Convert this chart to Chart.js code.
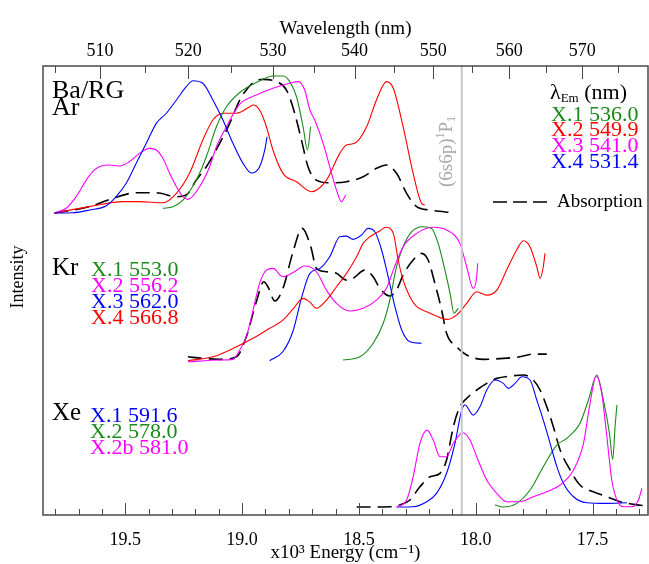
<!DOCTYPE html>
<html>
<head>
<meta charset="utf-8">
<script src="https://cdn.jsdelivr.net/npm/chart.js@4.4.1/dist/chart.umd.min.js"></script>
<style>
  html, body { margin: 0; padding: 0; background: #fff; }
</style>
</head>
<body>
<canvas id="spectra" width="649" height="564"></canvas>
<script>
// energy in 10^3 cm-1, intensity normalised per panel
const energyMin = 17.263;
const energyMax = 19.852;
const energyTicks = [17.5, 18.0, 18.5, 19.0, 19.5];
const wavelengthTicks = [510, 520, 530, 540, 550, 560, 570];
const atomicLine = 18.060; // Ba (6s6p)1P1
const panelOffset = { Ar: 2.237, Kr: 1.133, Xe: 0.059 };

// Ba/RG Ar
const arX1 = [[19.339,0.035],[19.296,0.047],[19.253,0.096],[19.196,0.244],[19.153,0.417],[19.110,0.639],[19.067,0.787],[19.010,0.893],[18.939,0.967],[18.868,1.015],[18.825,1.015],[18.796,0.973],[18.767,0.861],[18.739,0.639],[18.720,0.467],[18.707,0.639]];
const arX2 = [[19.803,0],[19.653,0.047],[19.510,0.084],[19.439,0.084],[19.339,0.076],[19.281,0.146],[19.225,0.294],[19.168,0.541],[19.125,0.689],[19.082,0.739],[19.024,0.739],[18.967,0.787],[18.953,0.800],[18.925,0.763],[18.896,0.639],[18.868,0.467],[18.825,0.294],[18.767,0.232],[18.703,0.158],[18.639,0.244],[18.582,0.442],[18.553,0.504],[18.518,0.516],[18.467,0.639],[18.425,0.837],[18.382,0.973],[18.353,0.924],[18.311,0.639],[18.268,0.294],[18.232,0.072],[18.218,0.059]];
const arX3 = [[19.803,0],[19.753,0.035],[19.710,0.121],[19.667,0.244],[19.632,0.319],[19.603,0.348],[19.567,0.356],[19.524,0.348],[19.482,0.380],[19.439,0.442],[19.396,0.479],[19.367,0.467],[19.339,0.405],[19.310,0.294],[19.281,0.195],[19.253,0.121],[19.232,0.101],[19.182,0.195],[19.139,0.343],[19.110,0.491],[19.067,0.639],[19.010,0.807],[18.939,0.874],[18.868,0.924],[18.796,0.961],[18.760,0.973],[18.732,0.911],[18.710,0.763],[18.689,0.689],[18.653,0.516],[18.625,0.343],[18.596,0.170],[18.575,0.084],[18.556,0.133]];
const arX4 = [[19.803,0],[19.725,0.002],[19.653,0.022],[19.581,0.054],[19.539,0.121],[19.496,0.220],[19.453,0.368],[19.410,0.516],[19.367,0.664],[19.324,0.739],[19.281,0.837],[19.239,0.936],[19.210,0.980],[19.168,0.961],[19.125,0.837],[19.082,0.689],[19.039,0.516],[18.996,0.368],[18.960,0.296],[18.925,0.343],[18.903,0.467],[18.893,0.565]];
const arAbs = [[19.803,0],[19.653,0.047],[19.553,0.109],[19.453,0.150],[19.367,0.150],[19.281,0.121],[19.239,0.133],[19.196,0.244],[19.153,0.343],[19.096,0.516],[19.053,0.664],[19.010,0.837],[18.953,0.967],[18.910,0.990],[18.853,0.973],[18.810,0.911],[18.775,0.739],[18.746,0.541],[18.718,0.343],[18.682,0.244],[18.625,0.224],[18.553,0.232],[18.482,0.269],[18.425,0.331],[18.382,0.356],[18.339,0.294],[18.296,0.146],[18.253,0.047],[18.196,0.022],[18.096,0.002]];

// Kr
const krX1 = [[18.568,0.015],[18.496,0.039],[18.439,0.139],[18.396,0.287],[18.368,0.459],[18.339,0.706],[18.311,0.854],[18.275,0.965],[18.225,1.002],[18.189,0.990],[18.161,0.879],[18.132,0.681],[18.110,0.509],[18.093,0.361],[18.075,0.398]];
const krX2 = [[19.232,0.002],[19.096,0.015],[19.039,0.020],[19.010,0.089],[18.982,0.187],[18.953,0.385],[18.925,0.583],[18.896,0.681],[18.868,0.694],[18.825,0.632],[18.782,0.663],[18.732,0.711],[18.682,0.669],[18.639,0.533],[18.596,0.435],[18.539,0.378],[18.482,0.398],[18.425,0.459],[18.382,0.546],[18.353,0.681],[18.311,0.854],[18.253,0.953],[18.182,0.998],[18.125,0.978],[18.068,0.879],[18.039,0.706],[18.011,0.546],[17.996,0.632],[17.992,0.731]];
const krX3 = [[18.882,0.010],[18.825,0.078],[18.782,0.230],[18.746,0.474],[18.710,0.657],[18.667,0.694],[18.625,0.780],[18.582,0.928],[18.553,0.933],[18.525,0.909],[18.489,0.941],[18.461,0.990],[18.432,0.965],[18.403,0.830],[18.375,0.632],[18.346,0.410],[18.317,0.237],[18.282,0.150],[18.232,0.139]];
const krX4 = [[19.232,0.010],[19.125,0.039],[19.024,0.113],[18.953,0.176],[18.882,0.250],[18.825,0.311],[18.782,0.393],[18.739,0.472],[18.710,0.444],[18.682,0.398],[18.639,0.459],[18.596,0.558],[18.553,0.657],[18.510,0.780],[18.482,0.879],[18.453,0.928],[18.410,0.973],[18.385,0.998],[18.353,0.953],[18.332,0.756],[18.311,0.607],[18.282,0.484],[18.253,0.410],[18.210,0.373],[18.168,0.341],[18.125,0.316],[18.082,0.348],[18.039,0.435],[17.996,0.521],[17.953,0.496],[17.910,0.533],[17.868,0.681],[17.825,0.830],[17.796,0.899],[17.768,0.854],[17.739,0.706],[17.725,0.620],[17.711,0.706],[17.704,0.805]];
const krAbs = [[19.232,0.039],[19.168,0.027],[19.096,0.020],[19.024,0.039],[18.982,0.187],[18.939,0.447],[18.907,0.595],[18.889,0.556],[18.860,0.452],[18.825,0.546],[18.782,0.817],[18.743,0.990],[18.706,0.854],[18.682,0.694],[18.639,0.669],[18.596,0.657],[18.553,0.607],[18.525,0.620],[18.475,0.681],[18.439,0.632],[18.410,0.546],[18.368,0.489],[18.339,0.533],[18.311,0.644],[18.268,0.756],[18.232,0.805],[18.204,0.756],[18.175,0.583],[18.146,0.385],[18.125,0.213],[18.082,0.113],[18.039,0.052],[17.968,0.020],[17.882,0.027],[17.811,0.039],[17.754,0.059],[17.696,0.059]];

// Xe
const xeX1 = [[18.339,0],[18.268,0.002],[18.210,0.039],[18.168,0.101],[18.125,0.250],[18.089,0.472],[18.060,0.719],[18.046,0.756],[18.011,0.681],[17.982,0.743],[17.953,0.867],[17.918,0.941],[17.882,0.916],[17.861,0.879],[17.832,0.916],[17.803,0.965],[17.768,0.941],[17.739,0.793],[17.711,0.644],[17.682,0.472],[17.653,0.299],[17.625,0.176],[17.582,0.076],[17.525,0.032],[17.439,0.027],[17.353,0.032]];
const xeX2 = [[17.918,0.015],[17.882,0],[17.825,0.027],[17.768,0.126],[17.711,0.299],[17.653,0.459],[17.611,0.509],[17.554,0.620],[17.518,0.793],[17.482,0.978],[17.454,0.793],[17.428,0.546],[17.414,0.353],[17.404,0.595],[17.396,0.756]];
const xeX2b = [[18.339,0],[18.296,0.052],[18.268,0.224],[18.239,0.472],[18.208,0.570],[18.182,0.496],[18.153,0.373],[18.125,0.373],[18.096,0.472],[18.054,0.550],[18.025,0.496],[17.996,0.373],[17.953,0.200],[17.910,0.101],[17.868,0.039],[17.811,0.039],[17.754,0.076],[17.696,0.113],[17.639,0.163],[17.582,0.274],[17.539,0.472],[17.511,0.768],[17.485,0.970],[17.461,0.842],[17.439,0.521],[17.418,0.200],[17.396,0.052],[17.368,0.002],[17.332,0.002],[17.304,0.052],[17.289,0.139]];
const xeAbs = [[18.510,0],[18.439,0],[18.368,0.002],[18.325,0.015],[18.282,0.052],[18.239,0.150],[18.196,0.224],[18.153,0.250],[18.125,0.348],[18.096,0.595],[18.068,0.743],[18.039,0.805],[17.996,0.867],[17.953,0.916],[17.910,0.953],[17.853,0.970],[17.796,0.978],[17.754,0.941],[17.725,0.867],[17.696,0.743],[17.668,0.595],[17.639,0.422],[17.596,0.274],[17.554,0.163],[17.497,0.113],[17.439,0.076],[17.382,0.039],[17.325,0.020],[17.268,0.007]];

const GREEN = "#1a8a1a", RED = "#ff0000", MAGENTA = "#ff00ff", BLUE = "#0000ff";
const serif = "'Liberation Serif', 'DejaVu Serif', serif";
Chart.defaults.font.family = serif;
Chart.defaults.color = "#000";

function trace(points, offset, color, dashed) {
  return {
    data: points.map(p => ({ x: p[0], y: p[1] + offset })),
    borderColor: color,
    borderWidth: dashed ? 1.6 : 1.1,
    borderDash: dashed ? [14, 7] : [],
    pointRadius: 0,
    fill: false,
    cubicInterpolationMode: "monotone",
    xAxisID: "x",
    yAxisID: "y"
  };
}

const yTop = 3.326;
const datasets = [
  { data: [{ x: atomicLine, y: 0 }, { x: atomicLine, y: yTop }], borderColor: "#c8c8c8", borderWidth: 2, pointRadius: 0, xAxisID: "x", yAxisID: "y" },
  trace(arX4, panelOffset.Ar, BLUE),
  trace(arX3, panelOffset.Ar, MAGENTA),
  trace(arX1, panelOffset.Ar, GREEN),
  trace(arX2, panelOffset.Ar, RED),
  trace(arAbs, panelOffset.Ar, "#000", true),
  trace(krX4, panelOffset.Kr, RED),
  trace(krX2, panelOffset.Kr, MAGENTA),
  trace(krX3, panelOffset.Kr, BLUE),
  trace(krX1, panelOffset.Kr, GREEN),
  trace(krAbs, panelOffset.Kr, "#000", true),
  trace(xeX2b, panelOffset.Xe, MAGENTA),
  trace(xeX1, panelOffset.Xe, BLUE),
  trace(xeX2, panelOffset.Xe, GREEN),
  trace(xeAbs, panelOffset.Xe, "#000", true)
];

function writeLines(ctx, x, y, step, items, size) {
  ctx.font = size + "px " + serif;
  items.forEach((it, i) => {
    ctx.fillStyle = it[1];
    ctx.fillText(it[0], x, y + i * step);
  });
}

const overlay = {
  id: "overlay",
  afterDraw(chart) {
    const { ctx, chartArea: a } = chart;
    const xs = chart.scales.x;
    ctx.save();

    // frame
    ctx.strokeStyle = "#4a4a4a";
    ctx.lineWidth = 1.5;
    ctx.strokeRect(a.left, a.top, a.right - a.left, a.bottom - a.top);

    // inward ticks
    ctx.lineWidth = 1;
    ctx.beginPath();
    for (let i = 173; i <= 198; i++) {
      const px = Math.round(xs.getPixelForValue(i / 10)) + 0.5;
      const len = i % 5 === 0 ? 12 : 6;
      ctx.moveTo(px, a.bottom);
      ctx.lineTo(px, a.bottom - len);
    }
    for (let w = 505; w <= 575; w += 5) {
      const px = Math.round(xs.getPixelForValue(1e4 / w)) + 0.5;
      const len = w % 10 === 0 ? 13 : 7;
      ctx.moveTo(px, a.top);
      ctx.lineTo(px, a.top + len);
    }
    ctx.stroke();

    ctx.textBaseline = "middle";
    ctx.textAlign = "left";

    // y title
    ctx.save();
    ctx.translate(18, 277);
    ctx.rotate(-Math.PI / 2);
    ctx.textAlign = "center";
    ctx.fillStyle = "#000";
    ctx.font = "18px " + serif;
    ctx.fillText("Intensity", 0, 0);
    ctx.restore();

    // atomic line label
    ctx.save();
    ctx.translate(xs.getPixelForValue(atomicLine) - 15, 187);
    ctx.rotate(-Math.PI / 2);
    ctx.fillStyle = "#a8a8a8";
    let cx = 0;
    ctx.font = "19px " + serif;
    ctx.fillText("(6s6p)", cx, 0); cx += ctx.measureText("(6s6p)").width;
    ctx.font = "12px " + serif;
    ctx.fillText("1", cx, -6); cx += ctx.measureText("1").width;
    ctx.font = "19px " + serif;
    ctx.fillText("P", cx, 0); cx += ctx.measureText("P").width;
    ctx.font = "12px " + serif;
    ctx.fillText("1", cx, 5);
    ctx.restore();

    // panel names
    ctx.fillStyle = "#000";
    ctx.font = "26px " + serif;
    ctx.fillText("Ba/RG", 52, 91);
    ctx.fillText("Ar", 52, 108);
    ctx.font = "25px " + serif;
    ctx.fillText("Kr", 52, 268);
    ctx.fillText("Xe", 52, 413);

    // Ar legend
    ctx.fillStyle = "#000";
    ctx.font = "22px " + serif;
    ctx.fillText("\u03bb", 550, 93);
    let lx = 550 + ctx.measureText("\u03bb").width;
    ctx.font = "13px " + serif;
    ctx.fillText("Em", lx, 99);
    lx += ctx.measureText("Em").width;
    ctx.font = "22px " + serif;
    ctx.fillText(" (nm)", lx, 93);
    writeLines(ctx, 551, 115, 15.6, [["X.1 536.0", GREEN], ["X.2 549.9", RED], ["X.3 541.0", MAGENTA], ["X.4 531.4", BLUE]], 22);

    ctx.strokeStyle = "#000";
    ctx.lineWidth = 1.6;
    ctx.setLineDash([14, 6]);
    ctx.beginPath();
    ctx.moveTo(493, 202);
    ctx.lineTo(548, 202);
    ctx.stroke();
    ctx.setLineDash([]);
    ctx.fillStyle = "#000";
    ctx.font = "19px " + serif;
    ctx.fillText("Absorption", 557, 202);

    // Kr legend
    writeLines(ctx, 91, 270, 16, [["X.1 553.0", GREEN], ["X.2 556.2", MAGENTA], ["X.3 562.0", BLUE], ["X.4 566.8", RED]], 22);
    // Xe legend
    writeLines(ctx, 90, 416, 16, [["X.1 591.6", BLUE], ["X.2 578.0", GREEN], ["X.2b 581.0", MAGENTA]], 22);

    ctx.restore();
  }
};

new Chart(document.getElementById("spectra").getContext("2d"), {
  type: "line",
  data: { datasets: datasets },
  options: {
    responsive: false,
    animation: false,
    devicePixelRatio: 1,
    layout: { padding: { left: 43, right: 1 } },
    plugins: { legend: { display: false }, tooltip: { enabled: false } },
    scales: {
      x: {
        type: "linear",
        position: "bottom",
        reverse: true,
        min: energyMin,
        max: energyMax,
        afterBuildTicks: s => { s.ticks = energyTicks.map(v => ({ value: v })); },
        afterFit: s => { s.height = 49; },
        grid: { display: false, drawTicks: false },
        border: { display: false },
        ticks: {
          color: "#000",
          padding: 14,
          maxRotation: 0,
          autoSkip: false,
          font: { family: serif, size: 18 },
          callback: v => Number(v).toFixed(1)
        },
        title: {
          display: true,
          text: "x10\u00b3 Energy (cm\u207b\u00b9)",
          color: "#000",
          font: { family: serif, size: 19 },
          padding: { top: 0, bottom: 0 }
        }
      },
      x2: {
        type: "linear",
        position: "top",
        reverse: true,
        min: energyMin,
        max: energyMax,
        afterBuildTicks: s => { s.ticks = wavelengthTicks.map(w => ({ value: 1e4 / w })); },
        afterFit: s => { s.height = 66; },
        grid: { display: false, drawTicks: false },
        border: { display: false },
        ticks: {
          color: "#000",
          padding: 4,
          maxRotation: 0,
          autoSkip: false,
          font: { family: serif, size: 18 },
          callback: v => String(Math.round(1e4 / v))
        },
        title: {
          display: true,
          text: "Wavelength (nm)",
          color: "#000",
          font: { family: serif, size: 19 },
          padding: { top: 18, bottom: 0 }
        }
      },
      y: { display: false, min: 0, max: yTop }
    }
  },
  plugins: [overlay]
});
</script>
</body>
</html>
